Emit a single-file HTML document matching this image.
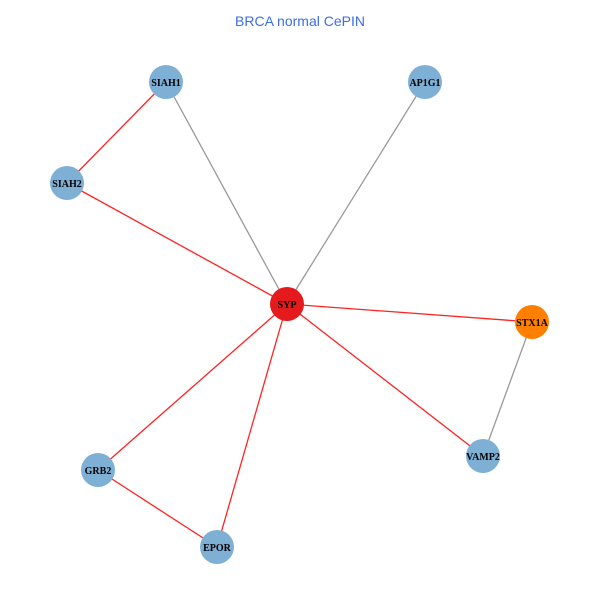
<!DOCTYPE html>
<html><head><style>body{margin:0;background:#fff}</style></head><body>
<svg width="600" height="600" xmlns="http://www.w3.org/2000/svg">
<rect width="600" height="600" fill="#fff"/>
<text x="300" y="26" text-anchor="middle" font-family="Liberation Sans, sans-serif" font-size="14" fill="#3a6ee8">BRCA normal CePIN</text>
<g stroke-width="1.3">
<line x1="166" y1="82" x2="287" y2="304" stroke="#999"/>
<line x1="425" y1="82" x2="287" y2="304" stroke="#999"/>
<line x1="532" y1="322" x2="483" y2="456" stroke="#999"/>
<line x1="166" y1="82" x2="67" y2="183" stroke="#f22"/>
<line x1="67" y1="183" x2="287" y2="304" stroke="#f22"/>
<line x1="287" y1="304" x2="532" y2="322" stroke="#f22"/>
<line x1="287" y1="304" x2="483" y2="456" stroke="#f22"/>
<line x1="287" y1="304" x2="98" y2="470" stroke="#f22"/>
<line x1="287" y1="304" x2="217" y2="547" stroke="#f22"/>
<line x1="98" y1="470" x2="217" y2="547" stroke="#f22"/>
</g>
<g fill="#7eb0d5">
<circle cx="166" cy="82" r="17"/><circle cx="425" cy="82" r="17"/><circle cx="67" cy="183" r="17"/>
<circle cx="98" cy="470" r="17"/><circle cx="483" cy="456" r="17"/><circle cx="217" cy="547" r="17"/>
</g>
<circle cx="287" cy="304" r="17" fill="#e41a1c"/>
<circle cx="532" cy="322" r="17" fill="#ff7f00"/>
<g font-family="Liberation Serif, serif" font-size="10" font-weight="bold" text-anchor="middle" fill="#000">
<text x="166" y="86">SIAH1</text><text x="425" y="86">AP1G1</text><text x="67" y="187">SIAH2</text>
<text x="287" y="308">SYP</text><text x="532" y="326">STX1A</text><text x="98" y="474">GRB2</text>
<text x="483" y="460">VAMP2</text><text x="217" y="551">EPOR</text>
</g>
</svg>
</body></html>
